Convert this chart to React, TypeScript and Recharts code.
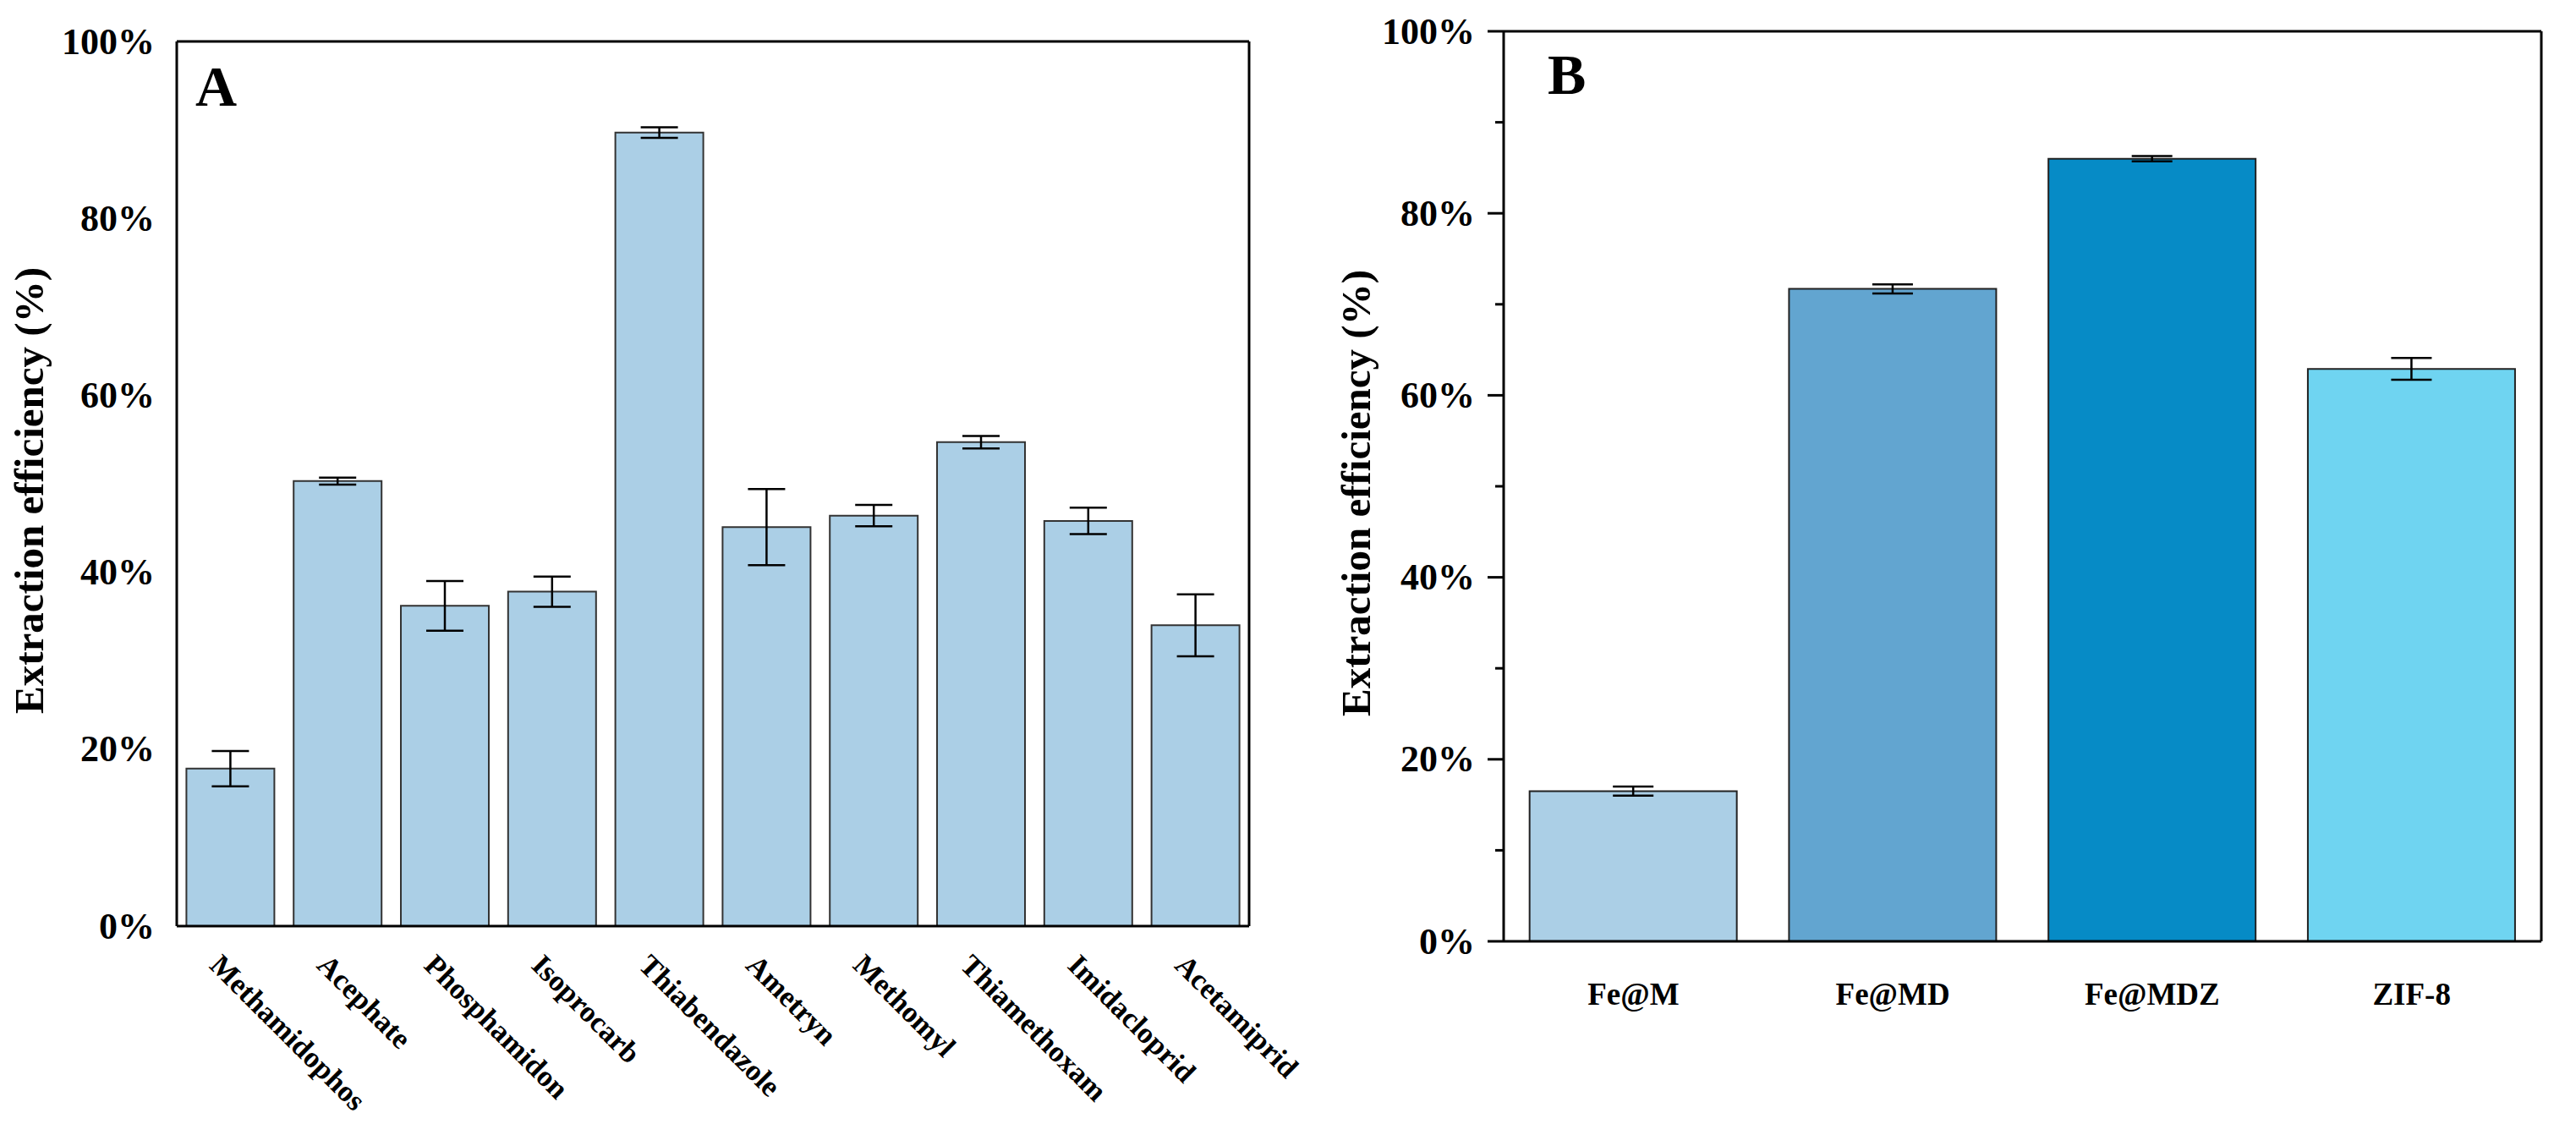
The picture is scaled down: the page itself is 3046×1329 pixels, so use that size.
import React from "react";
import { BarChart, Bar, XAxis, YAxis, ErrorBar, Cell } from "recharts";

const pesticides = [
    "Methamidophos", "Acephate", "Phosphamidon", "Isoprocarb", "Thiabendazole",
    "Ametryn", "Methomyl", "Thiamethoxam", "Imidacloprid", "Acetamiprid",
];
const pesticideEff = [17.8, 50.3, 36.2, 37.8, 89.7, 45.1, 46.4, 54.7, 45.8, 34.0];
const pesticideErr = [2.0, 0.4, 2.8, 1.7, 0.6, 4.3, 1.2, 0.7, 1.5, 3.5];

const materials = ["Fe@M", "Fe@MD", "Fe@MDZ", "ZIF-8"];
const materialEff = [16.5, 71.7, 86.0, 62.9];
const materialErr = [0.5, 0.5, 0.3, 1.2];
const materialColors = ["#abcfe6", "#62a5d0", "#068bc6", "#6fd4f1"];

const ticksA = [0, 20, 40, 60, 80, 100];
const ticksB = [0, 10, 20, 30, 40, 50, 60, 70, 80, 90, 100];

const FONT = "'Liberation Serif', 'Times New Roman', serif";

const dataA = pesticides.map((name, i) => ({ name, eff: pesticideEff[i], err: pesticideErr[i] }));
const dataB = materials.map((name, i) => ({ name, eff: materialEff[i], err: materialErr[i] }));

const YLabel = (dx: number) => (props: any) => {
    const { viewBox } = props;
    const x = viewBox.x + dx;
    const y = viewBox.y + viewBox.height / 2 + 8;
    return (
        <text x={x} y={y} transform={`rotate(-90, ${x}, ${y})`} textAnchor="middle" dominantBaseline="central"
            fontFamily={FONT} fontWeight="bold" fontSize={49} fill="#000">
            Extraction efficiency (%)
        </text>
    );
};

const TickA = (props: any) => {
    const { x, y, payload } = props;
    return (
        <text x={x - 26} y={y} textAnchor="end" dominantBaseline="central" fontFamily={FONT}
            fontWeight="bold" fontSize={44} fill="#000">
            {payload.value}%
        </text>
    );
};

const TickB = (props: any) => {
    const { x, y, payload } = props;
    const major = payload.value % 20 === 0;
    return (
        <g>
            <line x1={x} x2={x - (major ? 19 : 10)} y1={y} y2={y} stroke="#000" strokeWidth={3} />
            {major && (
                <text x={x - 34} y={y} textAnchor="end" dominantBaseline="central" fontFamily={FONT}
                    fontWeight="bold" fontSize={44} fill="#000">
                    {payload.value}%
                </text>
            )}
        </g>
    );
};

const XTickA = (props: any) => {
    const { x, y, payload } = props;
    const tx = x - 18;
    const ty = y + 32;
    return (
        <text x={tx} y={ty} transform={`rotate(45, ${tx}, ${ty})`} textAnchor="start" dominantBaseline="central"
            fontFamily={FONT} fontWeight="bold" fontSize={35} fill="#000">
            {payload.value}
        </text>
    );
};

const XTickB = (props: any) => {
    const { x, y, payload } = props;
    return (
        <text x={x} y={y + 54} textAnchor="middle" dominantBaseline="central" fontFamily={FONT}
            fontWeight="bold" fontSize={37} fill="#000">
            {payload.value}
        </text>
    );
};

const panelLetter: React.CSSProperties = {
    position: "absolute",
    fontFamily: FONT,
    fontWeight: "bold",
    fontSize: 68,
    lineHeight: 1,
    color: "#000",
};

export default function App() {
    return (
        <div style={{ position: "absolute", left: 0, top: 0, width: 3046, height: 1329, background: "#fff" }}>
            <div style={{ position: "absolute", left: 0, top: 0 }}>
                <BarChart width={1570} height={1329} data={dataA} barCategoryGap="9%"
                    margin={{ top: 49, right: 93, bottom: 34, left: 0 }}>
                    <XAxis dataKey="name" height={200} interval={0} tick={<XTickA />} tickLine={false}
                        axisLine={{ stroke: "#000", strokeWidth: 3 }} />
                    <XAxis xAxisId="top" dataKey="name" orientation="top" mirror tick={false} tickLine={false}
                        axisLine={{ stroke: "#000", strokeWidth: 3 }} />
                    <YAxis domain={[0, 100]} ticks={ticksA} width={209} tick={<TickA />} tickLine={false}
                        tickSize={0} tickMargin={0} axisLine={{ stroke: "#000", strokeWidth: 3 }}
                        label={{ content: YLabel(34) }} />
                    <YAxis yAxisId="right" orientation="right" mirror domain={[0, 100]} tick={false}
                        tickLine={false} axisLine={{ stroke: "#000", strokeWidth: 3 }} />
                    <Bar dataKey="eff" fill="#abcfe6" stroke="#333" strokeWidth={2} isAnimationActive={false}>
                        <ErrorBar dataKey="err" width={22} stroke="#000" strokeWidth={2.5} direction="y" />
                    </Bar>
                </BarChart>
            </div>
            <div style={{ ...panelLetter, left: 231, top: 68 }}>A</div>

            <div style={{ position: "absolute", left: 1540, top: 0 }}>
                <BarChart width={1506} height={1329} data={dataB} barCategoryGap="10%"
                    margin={{ top: 37, right: 41, bottom: 96, left: 0 }}>
                    <XAxis dataKey="name" height={120} interval={0} tick={<XTickB />} tickLine={false}
                        axisLine={{ stroke: "#000", strokeWidth: 3 }} />
                    <XAxis xAxisId="top" dataKey="name" orientation="top" mirror tick={false} tickLine={false}
                        axisLine={{ stroke: "#000", strokeWidth: 3 }} />
                    <YAxis domain={[0, 100]} ticks={ticksB} interval={0} width={238} tick={<TickB />}
                        tickLine={false} tickSize={0} tickMargin={0}
                        axisLine={{ stroke: "#000", strokeWidth: 3 }} label={{ content: YLabel(63) }} />
                    <YAxis yAxisId="right" orientation="right" mirror domain={[0, 100]} tick={false}
                        tickLine={false} axisLine={{ stroke: "#000", strokeWidth: 3 }} />
                    <Bar dataKey="eff" stroke="#222" strokeWidth={2} isAnimationActive={false}>
                        {dataB.map((d, i) => (
                            <Cell key={d.name} fill={materialColors[i]} />
                        ))}
                        <ErrorBar dataKey="err" width={24} stroke="#000" strokeWidth={2.5} direction="y" />
                    </Bar>
                </BarChart>
            </div>
            <div style={{ ...panelLetter, left: 1830, top: 54 }}>B</div>
        </div>
    );
}
